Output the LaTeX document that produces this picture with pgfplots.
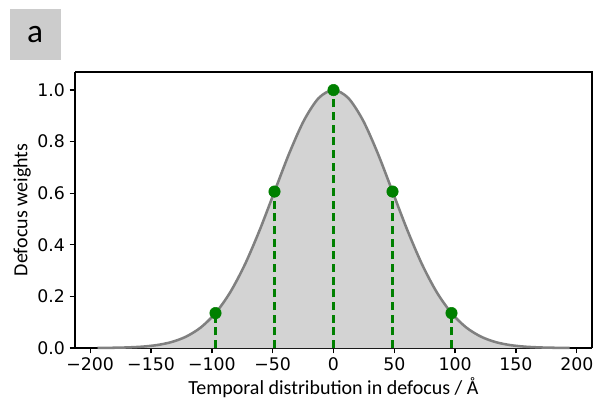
\documentclass[border=0pt]{standalone}
\usepackage{fontspec}
\setmainfont{Carlito}
\newfontfamily\tickfont{DejaVu Sans}
\usepackage{pgfplots}
\pgfplotsset{compat=1.18}
\definecolor{mplgreen}{HTML}{008000}
\definecolor{curvegray}{HTML}{808080}
\definecolor{fillgray}{HTML}{D3D3D3}
\definecolor{boxgray}{HTML}{CCCCCC}

\pgfplotstableread{
x y
-194.000 0.00034
-181.875 0.00088
-169.750 0.00219
-157.625 0.00509
-145.500 0.01111
-133.375 0.02279
-121.250 0.04394
-109.125 0.07956
-97.000 0.13534
-84.875 0.21627
-72.750 0.32465
-60.625 0.45783
-48.500 0.60653
-36.375 0.75484
-24.250 0.88250
-12.125 0.96923
0.000 1.00000
12.125 0.96923
24.250 0.88250
36.375 0.75484
48.500 0.60653
60.625 0.45783
72.750 0.32465
84.875 0.21627
97.000 0.13534
109.125 0.07956
121.250 0.04394
133.375 0.02279
145.500 0.01111
157.625 0.00509
169.750 0.00219
181.875 0.00088
194.000 0.00034
}\curve

\pgfplotstableread{
x y
-97.0 0.13534
-48.5 0.60653
0.0 1.00000
48.5 0.60653
97.0 0.13534
}\samples

\begin{document}
\begin{tikzpicture}
\begin{axis}[
  scale only axis,
  width=387.75pt, height=207pt,
  xmin=-212.5, xmax=212.5,
  ymin=0, ymax=1.07,
  xtick={-200,-150,...,200},
  xticklabels={−200,−150,−100,−50,0,50,100,150,200},
  ytick={0,0.2,...,1.0},
  yticklabel style={/pgf/number format/.cd,fixed,fixed zerofill,precision=1},
  tick label style={font=\tickfont\fontsize{13}{15}\selectfont},
  /pgf/number format/assume math mode=true,
  axis x line*=bottom, axis y line*=left,
  axis line style={black, line width=1pt},
  every outer x axis line/.append style={-},
  every outer y axis line/.append style={-},
  tick align=outside,
  major tick length=4pt,
  tick style={black, line width=1pt},
  xlabel={Temporal distribution in defocus / Å},
  ylabel={Defocus weights},
  label style={font=\fontsize{15}{18}\selectfont},
  xlabel style={yshift=2pt},
  ylabel style={yshift=-2pt},
  clip=false,
]
\addplot[draw=none, fill=fillgray, smooth] table {\curve} \closedcycle;
\addplot[curvegray, line width=1.9pt, smooth] table {\curve};
\addplot[mplgreen, line width=1.8pt, dash pattern=on 6pt off 3.5pt, ycomb, mark=none] table {\samples};
\addplot[only marks, mark=*, mark size=4.3pt, mark options={fill=mplgreen, draw=mplgreen}] table {\samples};
\draw[black, line width=1pt] (rel axis cs:0,1) -- (rel axis cs:1,1) -- (rel axis cs:1,0);
\node[fill=boxgray, minimum width=38.25pt, minimum height=38.25pt, inner sep=0pt,
  anchor=south east, font=\fontsize{25}{30}\selectfont]
  at ([xshift=-10.5pt, yshift=9pt]rel axis cs:0,1) {a};
\end{axis}
\pgfresetboundingbox
\path ([xshift=-56.25pt, yshift=-43.5pt]current axis.south west) rectangle ([xshift=2.25pt, yshift=54pt]current axis.north east);
\end{tikzpicture}
\end{document}
